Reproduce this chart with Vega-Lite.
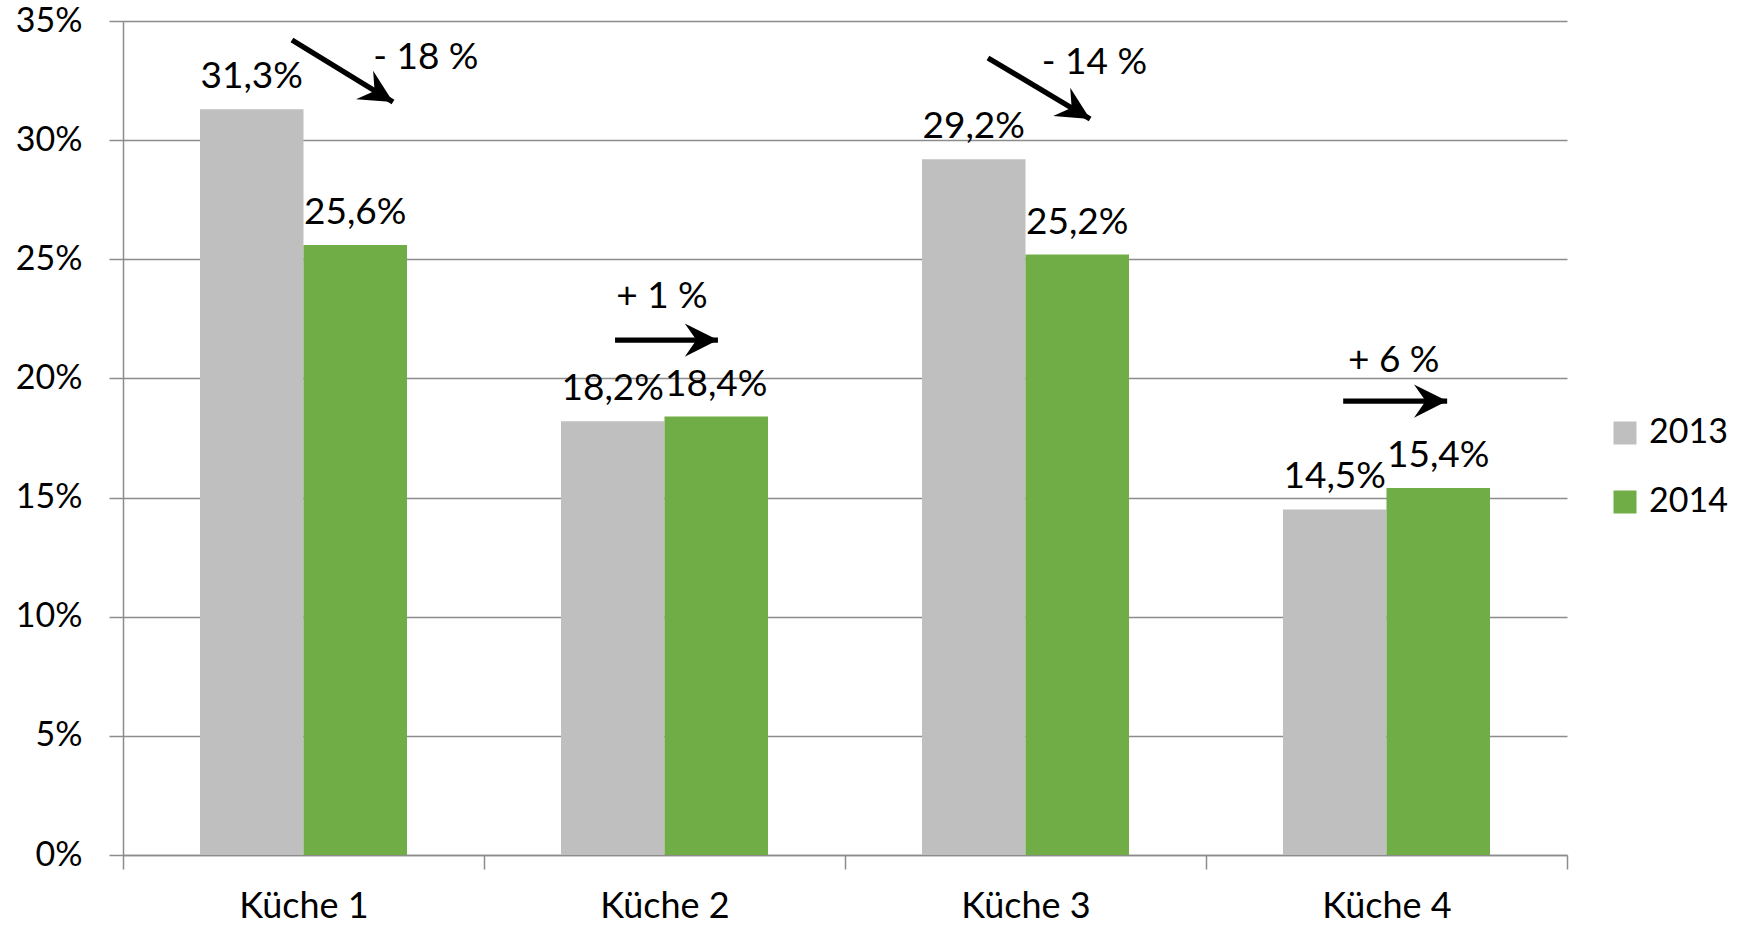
{
  "$schema": "https://vega.github.io/schema/vega-lite/v6.json",
  "autosize": "none",
  "width": 1444,
  "height": 834,
  "padding": {"left": 123, "top": 21, "right": 184, "bottom": 71},
  "background": "white",
  "config": {
    "locale": {"number": {"decimal": ",", "thousands": ".", "grouping": [3], "currency": ["", " €"]}},
    "font": "Lato",
    "view": {"stroke": null},
    "text": {"font": "Lato", "color": "black"}
  },
  "datasets": {
    "bars": [
      {"kueche": "Küche 1", "jahr": "2013", "anteil": 0.313},
      {"kueche": "Küche 1", "jahr": "2014", "anteil": 0.256},
      {"kueche": "Küche 2", "jahr": "2013", "anteil": 0.182},
      {"kueche": "Küche 2", "jahr": "2014", "anteil": 0.184},
      {"kueche": "Küche 3", "jahr": "2013", "anteil": 0.292},
      {"kueche": "Küche 3", "jahr": "2014", "anteil": 0.252},
      {"kueche": "Küche 4", "jahr": "2013", "anteil": 0.145},
      {"kueche": "Küche 4", "jahr": "2014", "anteil": 0.154}
    ],
    "arrows": [
      {"xs": 0.468, "ys": 0.342, "xe": 0.748, "ye": 0.316, "dir": "down", "label": "- 18 %", "lx": 0.839, "ly": 0.3357},
      {"xs": 1.363, "ys": 0.2161, "xe": 1.648, "ye": 0.2161, "dir": "flat", "label": "+ 1 %", "lx": 1.493, "ly": 0.2356},
      {"xs": 2.396, "ys": 0.3345, "xe": 2.679, "ye": 0.3089, "dir": "down", "label": "- 14 %", "lx": 2.691, "ly": 0.3336},
      {"xs": 3.38, "ys": 0.1905, "xe": 3.668, "ye": 0.1905, "dir": "flat", "label": "+ 6 %", "lx": 3.52, "ly": 0.2086}
    ]
  },
  "layer": [
    {
      "data": {"name": "bars"},
      "encoding": {
        "x": {
          "field": "kueche", "type": "nominal", "title": null,
          "scale": {"paddingInner": 0, "paddingOuter": 0},
          "axis": {
            "tickBand": "extent", "labelAngle": 0, "labelFontSize": 36, "labelColor": "black",
            "labelBaseline": "alphabetic", "labelPadding": 48, "tickSize": 14, "tickColor": "#8c8c8c",
            "tickWidth": 1.5, "domainColor": "#8c8c8c", "domainWidth": 1.5, "labelFont": "Lato"
          }
        },
        "xOffset": {"field": "jahr", "type": "nominal", "scale": {"paddingInner": 0, "paddingOuter": 0.744}},
        "y": {
          "field": "anteil", "type": "quantitative", "title": null,
          "scale": {"domain": [0, 0.35], "nice": false},
          "axis": {
            "format": ".0%", "values": [0, 0.05, 0.1, 0.15, 0.2, 0.25, 0.3, 0.35],
            "labelFontSize": 34, "labelColor": "black", "labelPadding": 27, "tickSize": 14,
            "tickColor": "#8c8c8c", "tickWidth": 1.5, "domainColor": "#8c8c8c", "domainWidth": 1.5,
            "grid": true, "gridColor": "#8c8c8c", "gridWidth": 1.5, "labelFont": "Lato"
          }
        }
      },
      "layer": [
        {
          "mark": {"type": "bar"},
          "encoding": {
            "color": {
              "field": "jahr", "type": "nominal",
              "scale": {"domain": ["2013", "2014"], "range": ["#BFBFBF", "#70AD47"]},
              "legend": {
                "title": null, "orient": "none", "legendX": 1485, "legendY": 395,
                "symbolType": "square", "symbolSize": 529, "symbolStrokeWidth": 0,
                "labelFontSize": 34, "labelColor": "black", "labelFont": "Lato",
                "labelOffset": 7, "rowPadding": 35, "padding": 0
              }
            }
          }
        },
        {
          "mark": {"type": "text", "baseline": "alphabetic", "align": "center", "dy": -21, "fontSize": 37},
          "encoding": {
            "text": {"field": "anteil", "type": "quantitative", "format": ".1%"}
          }
        }
      ]
    },
    {
      "data": {"name": "arrows"},
      "layer": [
        {
          "mark": {"type": "rule", "color": "black", "strokeWidth": 5.3},
          "encoding": {
            "x": {"field": "xs", "type": "quantitative", "scale": {"domain": [0, 4], "nice": false, "zero": false}, "axis": null},
            "x2": {"field": "xe"},
            "y": {"field": "ys", "type": "quantitative"},
            "y2": {"field": "ye"}
          }
        },
        {
          "mark": {"type": "point", "filled": true, "color": "black", "opacity": 1, "strokeWidth": 0, "shape": "M-2,-1L0,0L-2,1L-1.3,0Z", "size": 1100},
          "encoding": {
            "x": {"field": "xe", "type": "quantitative", "scale": {"domain": [0, 4], "nice": false, "zero": false}, "axis": null},
            "y": {"field": "ye", "type": "quantitative"},
            "angle": {"field": "dir", "type": "nominal", "scale": {"domain": ["down", "flat"], "range": [31, 0]}, "legend": null}
          }
        },
        {
          "mark": {"type": "text", "fontSize": 37, "align": "center", "baseline": "middle", "dy": 3},
          "encoding": {
            "x": {"field": "lx", "type": "quantitative", "scale": {"domain": [0, 4], "nice": false, "zero": false}, "axis": null},
            "y": {"field": "ly", "type": "quantitative"},
            "text": {"field": "label", "type": "nominal"}
          }
        }
      ]
    }
  ],
  "resolve": {"scale": {"x": "independent"}}
}
